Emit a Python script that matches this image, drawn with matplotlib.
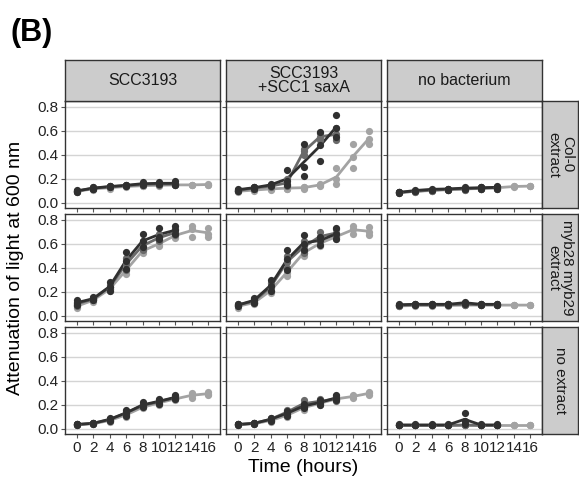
import matplotlib
matplotlib.use("Agg")
import matplotlib.pyplot as plt
import numpy as np

plt.rcParams['font.family'] = ['Liberation Sans', 'DejaVu Sans']

# time points (hours)
times_short = [0, 2, 4, 6, 8, 10, 12]
times_long = [0, 2, 4, 6, 8, 10, 12, 14, 16]

col_labels = ['SCC3193', 'SCC3193\n+SCC1 saxA', 'no bacterium']
row_labels = ['Col-0\nextract', 'myb28 myb29\nextract', 'no extract']

# replicate readings per panel: dark / mid series to 12 h, light series to 16 h
col0_scc = {
    'dark': [[0.09, 0.10, 0.11], [0.12, 0.12, 0.13], [0.13, 0.14, 0.14], [0.14, 0.15, 0.15],
             [0.15, 0.16, 0.17], [0.16, 0.16, 0.17], [0.15, 0.16, 0.18]],
    'mid': [[0.09, 0.10, 0.10], [0.12, 0.12, 0.13], [0.13, 0.13, 0.14], [0.14, 0.14, 0.15],
            [0.15, 0.15, 0.16], [0.15, 0.16, 0.16], [0.15, 0.16, 0.16]],
    'light': [[0.09, 0.10, 0.10], [0.11, 0.12, 0.12], [0.12, 0.13, 0.13], [0.13, 0.14, 0.14],
              [0.14, 0.14, 0.15], [0.14, 0.15, 0.15], [0.15, 0.15, 0.15], [0.15, 0.15, 0.15],
              [0.15, 0.15, 0.16]],
}
col0_sax = {
    'dark': [[0.10, 0.11, 0.12], [0.12, 0.13, 0.13], [0.14, 0.15, 0.16], [0.15, 0.18, 0.27],
             [0.22, 0.30, 0.49], [0.35, 0.48, 0.59], [0.55, 0.62, 0.73]],
    'mid': [[0.10, 0.10, 0.11], [0.12, 0.12, 0.13], [0.13, 0.14, 0.15], [0.14, 0.16, 0.20],
            [0.40, 0.43, 0.45], [0.52, 0.55, 0.58], [0.52, 0.57, 0.62]],
    'light': [[0.09, 0.10, 0.10], [0.10, 0.11, 0.11], [0.11, 0.12, 0.12], [0.12, 0.12, 0.13],
              [0.12, 0.13, 0.13], [0.14, 0.15, 0.16], [0.16, 0.20, 0.29], [0.29, 0.38, 0.49],
              [0.49, 0.53, 0.60]],
}
col0_none = {
    'dark': [[0.08, 0.09, 0.09], [0.10, 0.10, 0.11], [0.11, 0.11, 0.12], [0.11, 0.12, 0.12],
             [0.12, 0.12, 0.13], [0.12, 0.13, 0.13], [0.12, 0.13, 0.14]],
    'mid': [[0.08, 0.09, 0.09], [0.09, 0.10, 0.10], [0.10, 0.11, 0.11], [0.11, 0.11, 0.12],
            [0.11, 0.12, 0.12], [0.12, 0.12, 0.13], [0.12, 0.13, 0.13]],
    'light': [[0.08, 0.09, 0.09], [0.09, 0.10, 0.10], [0.10, 0.10, 0.11], [0.11, 0.11, 0.11],
              [0.11, 0.12, 0.12], [0.12, 0.12, 0.12], [0.12, 0.13, 0.13], [0.13, 0.14, 0.14],
              [0.14, 0.14, 0.14]],
}
myb_scc = {
    'dark': [[0.09, 0.11, 0.13], [0.13, 0.14, 0.16], [0.21, 0.24, 0.28], [0.39, 0.46, 0.53],
             [0.57, 0.62, 0.68], [0.64, 0.66, 0.73], [0.68, 0.71, 0.75]],
    'mid': [[0.08, 0.10, 0.12], [0.13, 0.14, 0.15], [0.22, 0.24, 0.26], [0.38, 0.43, 0.48],
            [0.55, 0.58, 0.62], [0.62, 0.65, 0.68], [0.67, 0.69, 0.72]],
    'light': [[0.07, 0.08, 0.09], [0.12, 0.13, 0.14], [0.21, 0.22, 0.24], [0.35, 0.38, 0.41],
              [0.52, 0.54, 0.56], [0.58, 0.60, 0.62], [0.65, 0.67, 0.69], [0.66, 0.72, 0.75],
              [0.66, 0.68, 0.73]],
}
myb_sax = {
    'dark': [[0.08, 0.09, 0.10], [0.11, 0.13, 0.15], [0.21, 0.25, 0.30], [0.38, 0.47, 0.55],
             [0.55, 0.60, 0.67], [0.59, 0.63, 0.66], [0.64, 0.68, 0.73]],
    'mid': [[0.08, 0.09, 0.10], [0.11, 0.12, 0.14], [0.21, 0.24, 0.27], [0.40, 0.45, 0.50],
            [0.52, 0.58, 0.62], [0.62, 0.66, 0.70], [0.66, 0.69, 0.72]],
    'light': [[0.07, 0.08, 0.09], [0.10, 0.11, 0.12], [0.19, 0.21, 0.23], [0.33, 0.36, 0.40],
              [0.50, 0.52, 0.55], [0.58, 0.60, 0.63], [0.64, 0.66, 0.68], [0.68, 0.72, 0.75],
              [0.67, 0.70, 0.74]],
}
myb_none = {
    'dark': [[0.09, 0.09, 0.10], [0.09, 0.10, 0.10], [0.09, 0.10, 0.10], [0.09, 0.10, 0.10],
             [0.10, 0.11, 0.12], [0.09, 0.10, 0.10], [0.09, 0.10, 0.10]],
    'mid': [[0.08, 0.09, 0.09], [0.09, 0.09, 0.10], [0.09, 0.09, 0.10], [0.09, 0.09, 0.10],
            [0.09, 0.10, 0.10], [0.09, 0.09, 0.10], [0.09, 0.09, 0.10]],
    'light': [[0.08, 0.08, 0.09], [0.08, 0.09, 0.09], [0.08, 0.09, 0.09], [0.08, 0.09, 0.09],
              [0.09, 0.09, 0.09], [0.09, 0.09, 0.09], [0.09, 0.09, 0.09], [0.09, 0.09, 0.09],
              [0.09, 0.09, 0.09]],
}
none_scc = {
    'dark': [[0.03, 0.04, 0.04], [0.04, 0.05, 0.05], [0.07, 0.08, 0.09], [0.11, 0.13, 0.16],
             [0.18, 0.20, 0.22], [0.21, 0.23, 0.25], [0.25, 0.26, 0.28]],
    'mid': [[0.03, 0.04, 0.04], [0.04, 0.05, 0.05], [0.07, 0.08, 0.08], [0.12, 0.13, 0.15],
            [0.18, 0.19, 0.21], [0.21, 0.23, 0.24], [0.25, 0.26, 0.27]],
    'light': [[0.03, 0.04, 0.04], [0.04, 0.04, 0.05], [0.06, 0.07, 0.08], [0.10, 0.12, 0.13],
              [0.17, 0.18, 0.19], [0.20, 0.22, 0.23], [0.24, 0.25, 0.26], [0.26, 0.28, 0.30],
              [0.28, 0.29, 0.31]],
}
none_sax = {
    'dark': [[0.03, 0.04, 0.04], [0.04, 0.05, 0.05], [0.07, 0.08, 0.09], [0.11, 0.13, 0.15],
             [0.17, 0.19, 0.21], [0.20, 0.22, 0.24], [0.24, 0.26, 0.28]],
    'mid': [[0.03, 0.04, 0.04], [0.04, 0.05, 0.05], [0.07, 0.08, 0.09], [0.12, 0.14, 0.16],
            [0.18, 0.21, 0.24], [0.21, 0.23, 0.25], [0.23, 0.25, 0.27]],
    'light': [[0.03, 0.04, 0.04], [0.04, 0.04, 0.05], [0.06, 0.07, 0.08], [0.10, 0.11, 0.13],
              [0.16, 0.18, 0.19], [0.20, 0.21, 0.23], [0.24, 0.25, 0.26], [0.26, 0.27, 0.28],
              [0.28, 0.30, 0.31]],
}
none_none = {
    'dark': [[0.03, 0.03, 0.04], [0.03, 0.03, 0.04], [0.03, 0.03, 0.04], [0.03, 0.03, 0.04],
             [0.04, 0.07, 0.13], [0.03, 0.03, 0.04], [0.03, 0.03, 0.04]],
    'mid': [[0.03, 0.03, 0.03], [0.03, 0.03, 0.03], [0.03, 0.03, 0.03], [0.03, 0.03, 0.03],
            [0.03, 0.03, 0.04], [0.03, 0.03, 0.03], [0.03, 0.03, 0.03]],
    'light': [[0.03, 0.03, 0.03], [0.03, 0.03, 0.03], [0.03, 0.03, 0.03], [0.03, 0.03, 0.03],
              [0.03, 0.03, 0.03], [0.03, 0.03, 0.03], [0.03, 0.03, 0.03], [0.03, 0.03, 0.03],
              [0.03, 0.03, 0.03]],
}

panels = [[col0_scc, col0_sax, col0_none],
          [myb_scc, myb_sax, myb_none],
          [none_scc, none_sax, none_none]]

series_colors = {'light': '#a3a3a3', 'mid': '#6a6a6a', 'dark': '#303030'}
strip_color = '#cccccc'
edge_color = '#333333'

W, H = 579, 483
fig = plt.figure(figsize=(W / 100, H / 100), dpi=100)


def px(x, y, w, h):
    """pixel box (top-left origin) -> figure fraction rect"""
    return [x / W, 1 - (y + h) / H, w / W, h / H]


col_x = [65, 226, 387]
row_y = [101, 214, 327]
pw, ph = 155, 107

for r in range(3):
    for c in range(3):
        ax = fig.add_axes(px(col_x[c], row_y[r], pw, ph))
        ax.set_xlim(-1.4, 17.4)
        ax.set_ylim(-0.042, 0.847)
        ax.set_yticks([0.0, 0.2, 0.4, 0.6, 0.8])
        ax.set_xticks(times_long)
        ax.grid(axis='y', color='#d4d4d4', linewidth=1.0)
        ax.set_axisbelow(True)
        for s in ax.spines.values():
            s.set_color(edge_color)
            s.set_linewidth(1.0)
        ax.tick_params(length=3, width=0.8, color='#555555', labelsize=11, pad=2,
                       labelcolor='#222222')
        if c == 0:
            ax.set_yticklabels(['0.0', '0.2', '0.4', '0.6', '0.8'])
        else:
            ax.set_yticklabels([])
        if r == 2:
            ax.set_xticklabels([str(t) for t in times_long])
        else:
            ax.set_xticklabels([])

        data = panels[r][c]
        for key in ['light', 'mid', 'dark']:
            reps = np.array(data[key])
            t = times_long if key == 'light' else times_short
            means = reps.mean(axis=1)
            ax.plot(t, means, color=series_colors[key], linewidth=2.0, zorder=3,
                    solid_capstyle='round')
            for i, ti in enumerate(t):
                ax.plot([ti] * reps.shape[1], reps[i], 'o', color=series_colors[key],
                        markersize=5.2, markeredgewidth=0, zorder=4)

# top strips
for c in range(3):
    sax = fig.add_axes(px(col_x[c], 60, pw, 41))
    sax.set_facecolor(strip_color)
    sax.set_xticks([])
    sax.set_yticks([])
    for s in sax.spines.values():
        s.set_color(edge_color)
        s.set_linewidth(1.0)
    sax.text(0.5, 0.5, col_labels[c], ha='center', va='center', fontsize=11.5,
             color='#1a1a1a', transform=sax.transAxes, linespacing=1.0)

# right strips
for r in range(3):
    sax = fig.add_axes(px(542, row_y[r], 36, ph))
    sax.set_facecolor(strip_color)
    sax.set_xticks([])
    sax.set_yticks([])
    for s in sax.spines.values():
        s.set_color(edge_color)
        s.set_linewidth(1.0)
    sax.text(0.5, 0.5, row_labels[r], ha='center', va='center', fontsize=11,
             color='#1a1a1a', rotation=-90, transform=sax.transAxes, linespacing=1.0)

fig.text(11 / W, 1 - 33 / H, '(B)', fontsize=22, fontweight='bold', ha='left', va='center')
fig.text(16 / W, 1 - 268 / H, 'Attenuation of light at 600 nm', rotation=90,
         ha='center', va='center', fontsize=14)
fig.text(303 / W, 1 - 467 / H, 'Time (hours)', ha='center', va='center', fontsize=14)

fig.savefig('out.png', dpi=100)
